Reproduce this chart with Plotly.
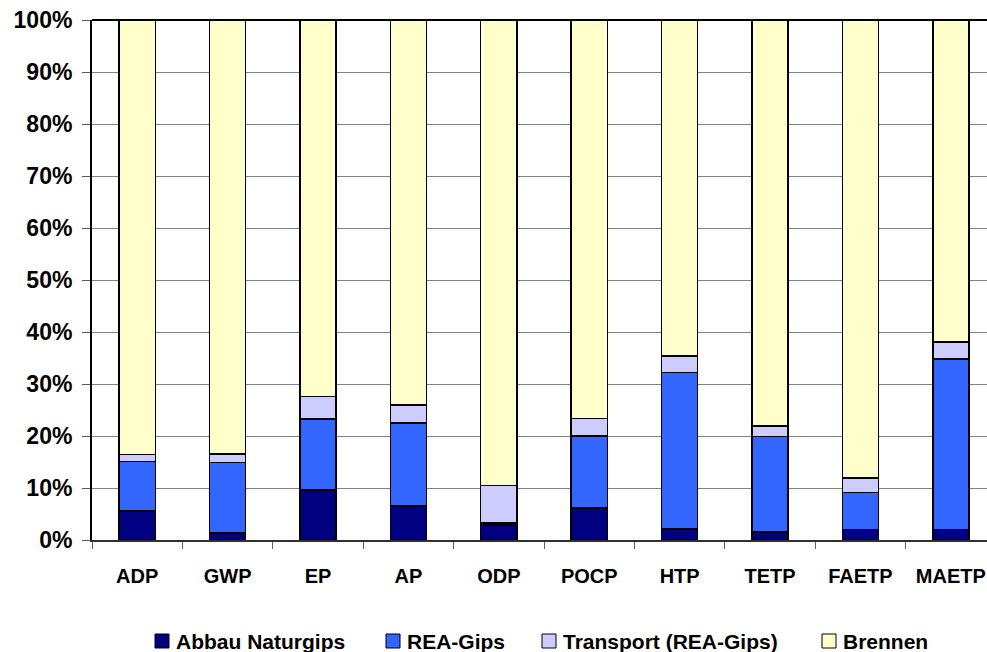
import plotly.graph_objects as go

# Impact categories and the share of each process step (percent of total)
categories = ["ADP", "GWP", "EP", "AP", "ODP", "POCP", "HTP", "TETP", "FAETP", "MAETP"]
abbau_naturgips = [5.6, 1.3, 9.6, 6.5, 2.9, 6.2, 2.1, 1.5, 2.0, 2.0]
rea_gips = [9.5, 13.6, 13.7, 16.0, 0.4, 13.8, 30.1, 18.4, 7.1, 32.8]
transport_rea = [1.3, 1.6, 4.3, 3.5, 7.2, 3.4, 3.2, 2.0, 2.8, 3.3]
brennen = [83.6, 83.5, 72.4, 74.0, 89.5, 76.6, 64.6, 78.1, 88.1, 61.9]

y_ticks = [0, 10, 20, 30, 40, 50, 60, 70, 80, 90, 100]
y_tick_text = [f"{v}%" for v in y_ticks]

series_names = ["Abbau Naturgips", "REA-Gips", "Transport (REA-Gips)", "Brennen"]
series_values = [abbau_naturgips, rea_gips, transport_rea, brennen]
series_colors = ["#000080", "#3366FF", "#CCCCFF", "#FFFFCC"]

font_family = "Liberation Sans, Arial, Helvetica, sans-serif"

fig = go.Figure()
for name, vals, color in zip(series_names, series_values, series_colors):
    fig.add_trace(go.Bar(
        x=categories, y=vals, name=name, showlegend=False,
        marker=dict(color=color, line=dict(color="#000000", width=1.5)),
    ))

fig.update_layout(
    barmode="stack",
    bargap=0.6,
    width=987, height=652,
    margin=dict(l=92, r=0, t=20, b=112),
    paper_bgcolor="white",
    plot_bgcolor="white",
    font=dict(family=font_family, size=19, color="#000000"),
    xaxis=dict(
        range=[-0.5, 9.4],
        showline=True, linecolor="#303030", linewidth=1.5,
        ticks="outside", tickson="boundaries", ticklen=7, tickcolor="#606060",
        tickfont=dict(family=font_family, size=20, weight="bold"),
        ticklabelstandoff=17,
        showgrid=False,
    ),
    yaxis=dict(
        range=[0, 100],
        tickvals=y_ticks, ticktext=y_tick_text,
        showline=True, linecolor="#000000", linewidth=2,
        ticks="outside", ticklen=8, tickcolor="#606060",
        tickfont=dict(family=font_family, size=23, weight="bold"),
        ticklabelstandoff=5,
        showgrid=True, gridcolor="#808080", gridwidth=1,
        zeroline=False,
    ),
)

# Frame line along the top edge of the plot area
fig.add_shape(type="line", xref="paper", yref="paper", x0=0, x1=1, y0=1, y1=1,
              line=dict(color="#000000", width=2))

# Legend row below the axis: a square swatch followed by its label
plot_left, plot_width, plot_bottom, plot_height = 92, 895, 540, 520


def px_x(px):
    return (px - plot_left) / plot_width


def px_y(py):
    return (plot_bottom - py) / plot_height


legend_swatch_left = [155, 386, 542, 822]
for name, color, sx in zip(series_names, series_colors, legend_swatch_left):
    fig.add_shape(type="rect", xref="paper", yref="paper",
                  x0=px_x(sx), x1=px_x(sx + 14), y0=px_y(648), y1=px_y(634),
                  fillcolor=color, line=dict(color="#000000", width=1))
    fig.add_annotation(text=f"<b>{name}</b>", xref="paper", yref="paper",
                       x=px_x(sx + 19), y=px_y(641), xanchor="left", yanchor="middle",
                       showarrow=False,
                       font=dict(family=font_family, size=21, color="#000000"))

fig.write_html("out.html")
